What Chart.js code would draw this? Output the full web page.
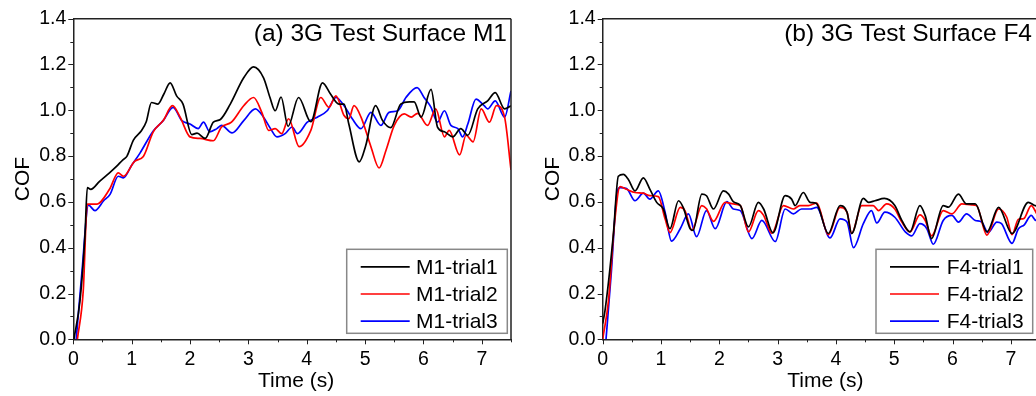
<!DOCTYPE html>
<html>
<head>
<meta charset="utf-8">
<script src="https://cdn.jsdelivr.net/npm/chart.js@4.4.1/dist/chart.umd.min.js"></script>
<style>
  html, body { margin: 0; padding: 0; background: #fff; }
  #wrap { position: relative; width: 1036px; height: 396px; overflow: hidden; }
  #panelA { position: absolute; left: 0; top: 0; }
  #boxB { position: absolute; left: 520px; top: 0; width: 516px; height: 396px; overflow: hidden; }
  #panelB { position: absolute; left: 0; top: 0; }
</style>
</head>
<body>
<div id="wrap">
  <canvas id="panelA" width="520" height="396"></canvas>
  <div id="boxB"><canvas id="panelB" width="530" height="396"></canvas></div>
</div>
<script>
// Axis ticks
const timeTicks = [0, 1, 2, 3, 4, 5, 6, 7];
const cofTicks = [0.0, 0.2, 0.4, 0.6, 0.8, 1.0, 1.2, 1.4];

// Surface M1 — time (s) and COF per trial
const m1Trial1T = [0.01, 0.115, 0.20, 0.24, 0.30, 0.45, 0.62, 0.74, 0.85, 0.92, 1.03, 1.17, 1.25, 1.34, 1.45, 1.55, 1.66, 1.77, 1.88, 2.03, 2.12, 2.26, 2.40, 2.52, 2.69, 2.92, 3.09, 3.26, 3.37, 3.46, 3.56, 3.68, 3.86, 4.07, 4.27, 4.41, 4.55, 4.64, 4.72, 4.90, 5.01, 5.18, 5.30, 5.44, 5.61, 5.76, 5.84, 5.96, 6.13, 6.24, 6.36, 6.50, 6.64, 6.76, 6.93, 7.10, 7.23, 7.39, 7.50];
const m1Trial1 = [0, 0.17, 0.455, 0.662, 0.655, 0.69, 0.727, 0.755, 0.784, 0.80, 0.87, 0.912, 0.95, 1.034, 1.027, 1.07, 1.12, 1.063, 1.027, 0.894, 0.90, 0.877, 0.948, 0.96, 1.027, 1.142, 1.19, 1.142, 1.056, 0.998, 1.058, 0.93, 1.056, 0.95, 1.12, 1.07, 1.027, 1.027, 0.941, 0.775, 0.845, 1.02, 0.955, 0.924, 1.027, 1.037, 1.037, 0.97, 1.091, 0.927, 0.906, 0.884, 0.92, 0.891, 1.006, 1.041, 1.077, 1.006, 1.02];

const m1Trial2T = [0.07, 0.17, 0.24, 0.40, 0.62, 0.77, 0.86, 1.05, 1.20, 1.37, 1.54, 1.70, 1.83, 2.00, 2.17, 2.40, 2.54, 2.71, 2.92, 3.09, 3.23, 3.35, 3.46, 3.57, 3.69, 3.87, 4.07, 4.24, 4.38, 4.50, 4.64, 4.72, 4.81, 4.93, 5.10, 5.24, 5.36, 5.50, 5.67, 5.79, 5.90, 6.07, 6.21, 6.36, 6.44, 6.62, 6.73, 6.85, 6.99, 7.13, 7.25, 7.39, 7.50];
const m1Trial2 = [0, 0.21, 0.59, 0.59, 0.655, 0.727, 0.712, 0.777, 0.798, 0.906, 0.955, 1.02, 0.97, 0.884, 0.877, 0.867, 0.927, 0.948, 1.02, 1.056, 0.991, 0.912, 0.92, 0.898, 0.963, 0.841, 0.912, 1.056, 1.013, 1.063, 0.977, 0.963, 1.02, 0.97, 0.841, 0.748, 0.827, 0.934, 0.984, 0.97, 0.987, 0.934, 1.006, 0.884, 0.912, 0.805, 0.891, 0.862, 1.006, 0.948, 1.02, 0.97, 0.74];

const m1Trial3T = [0.05, 0.15, 0.26, 0.37, 0.52, 0.63, 0.77, 0.86, 1.00, 1.14, 1.37, 1.54, 1.71, 1.86, 2.00, 2.14, 2.23, 2.34, 2.46, 2.54, 2.72, 2.92, 3.12, 3.26, 3.38, 3.49, 3.63, 3.75, 3.84, 4.01, 4.18, 4.35, 4.50, 4.64, 4.78, 4.93, 5.10, 5.27, 5.41, 5.56, 5.70, 5.89, 6.01, 6.13, 6.24, 6.36, 6.47, 6.59, 6.67, 6.76, 6.90, 7.04, 7.10, 7.23, 7.39, 7.50];
const m1Trial3 = [0, 0.3, 0.586, 0.562, 0.605, 0.633, 0.712, 0.705, 0.76, 0.812, 0.91, 0.955, 1.013, 0.955, 0.94, 0.92, 0.948, 0.906, 0.92, 0.934, 0.901, 0.955, 1.006, 0.97, 0.92, 0.884, 0.898, 0.927, 0.898, 0.948, 0.97, 0.998, 1.056, 1.02, 0.963, 0.92, 0.991, 0.934, 0.991, 0.998, 1.056, 1.099, 1.056, 1.013, 0.948, 0.998, 0.934, 0.92, 0.884, 0.94, 1.049, 1.02, 1.006, 1.041, 0.97, 1.084];

// Surface F4 — time (s) and COF per trial
const f4Trial1T = [0, 0.04, 0.18, 0.268, 0.354, 0.44, 0.554, 0.697, 0.81, 0.926, 1.04, 1.154, 1.30, 1.38, 1.50, 1.55, 1.70, 1.78, 1.90, 2.07, 2.16, 2.24, 2.36, 2.50, 2.67, 2.76, 2.92, 3.13, 3.24, 3.30, 3.44, 3.556, 3.66, 3.87, 4.07, 4.19, 4.27, 4.47, 4.56, 4.67, 4.83, 5.01, 5.13, 5.27, 5.44, 5.53, 5.64, 5.84, 5.93, 6.10, 6.24, 6.39, 6.59, 6.79, 7.02, 7.30, 7.41, 7.5];
const f4Trial1 = [0.069, 0.126, 0.45, 0.712, 0.72, 0.698, 0.648, 0.705, 0.655, 0.598, 0.569, 0.483, 0.605, 0.576, 0.483, 0.476, 0.634, 0.627, 0.569, 0.648, 0.634, 0.601, 0.584, 0.491, 0.598, 0.569, 0.465, 0.627, 0.612, 0.584, 0.641, 0.598, 0.594, 0.462, 0.584, 0.555, 0.462, 0.615, 0.598, 0.605, 0.615, 0.584, 0.519, 0.469, 0.584, 0.541, 0.44, 0.584, 0.577, 0.634, 0.591, 0.591, 0.469, 0.576, 0.462, 0.598, 0.584, 0.58];

const f4Trial2T = [0, 0.1, 0.2, 0.297, 0.41, 0.554, 0.697, 0.81, 0.954, 1.07, 1.154, 1.33, 1.41, 1.53, 1.70, 1.78, 1.90, 2.10, 2.24, 2.36, 2.50, 2.67, 2.76, 2.90, 3.10, 3.27, 3.38, 3.53, 3.67, 3.87, 4.07, 4.19, 4.27, 4.44, 4.64, 4.73, 4.87, 5.01, 5.13, 5.27, 5.44, 5.53, 5.64, 5.84, 5.99, 6.16, 6.33, 6.41, 6.59, 6.79, 6.93, 7.02, 7.13, 7.22, 7.35, 7.43, 7.5];
const f4Trial2 = [0, 0.17, 0.5, 0.667, 0.655, 0.641, 0.638, 0.627, 0.623, 0.526, 0.466, 0.576, 0.562, 0.476, 0.584, 0.57, 0.515, 0.598, 0.591, 0.584, 0.469, 0.562, 0.541, 0.462, 0.584, 0.569, 0.584, 0.584, 0.595, 0.457, 0.576, 0.555, 0.462, 0.584, 0.584, 0.562, 0.591, 0.569, 0.512, 0.469, 0.543, 0.52, 0.452, 0.562, 0.548, 0.591, 0.587, 0.584, 0.455, 0.569, 0.533, 0.457, 0.524, 0.527, 0.584, 0.555, 0.52];

const f4Trial3T = [0.057, 0.15, 0.24, 0.297, 0.41, 0.554, 0.697, 0.81, 0.954, 1.07, 1.18, 1.33, 1.47, 1.61, 1.78, 1.93, 2.13, 2.24, 2.36, 2.56, 2.73, 2.96, 3.13, 3.27, 3.41, 3.56, 3.67, 3.90, 4.07, 4.19, 4.30, 4.47, 4.61, 4.70, 4.84, 5.01, 5.19, 5.30, 5.44, 5.56, 5.67, 5.84, 5.99, 6.10, 6.24, 6.39, 6.50, 6.61, 6.76, 6.84, 7.02, 7.13, 7.23, 7.35, 7.43, 7.5];
const f4Trial3 = [0, 0.3, 0.627, 0.662, 0.658, 0.605, 0.638, 0.612, 0.648, 0.555, 0.429, 0.483, 0.548, 0.448, 0.562, 0.483, 0.601, 0.569, 0.562, 0.44, 0.519, 0.427, 0.569, 0.548, 0.569, 0.569, 0.576, 0.443, 0.526, 0.512, 0.40, 0.505, 0.562, 0.508, 0.555, 0.533, 0.469, 0.452, 0.505, 0.483, 0.415, 0.519, 0.541, 0.512, 0.548, 0.519, 0.512, 0.466, 0.512, 0.505, 0.419, 0.483, 0.50, 0.541, 0.519, 0.53];

const trialColors = ['#000000', '#ff0000', '#0000ff'];
const FONT = '"Liberation Sans", Arial, Helvetica, sans-serif';

function pairs(ts, vs) { return ts.map((t, i) => ({ x: t, y: vs[i] })); }

// Frame, minor/major tick marks, axis titles, panel title and boxed legend
const decorPlugin = {
  id: 'decor',
  afterDraw(chart, args, o) {
    const ctx = chart.ctx;
    const { left, right, top, bottom } = chart.chartArea;
    const xs = chart.scales.x, ys = chart.scales.y;
    ctx.save();
    // top and right frame lines
    ctx.strokeStyle = '#222';
    ctx.lineWidth = 1.5;
    ctx.beginPath();
    ctx.moveTo(left, top); ctx.lineTo(right, top);
    ctx.moveTo(right, top); ctx.lineTo(right, bottom);
    ctx.stroke();
    // tick marks (outward)
    ctx.lineWidth = 1;
    ctx.strokeStyle = '#222';
    ctx.beginPath();
    for (let v = 0; v <= 1.4001; v += 0.1) {
      const y = Math.round(ys.getPixelForValue(v)) + 0.5;
      const major = Math.abs(v / 0.2 - Math.round(v / 0.2)) < 1e-6;
      ctx.moveTo(left, y); ctx.lineTo(left - (major ? 5 : 3), y);
    }
    for (let v = 0; v <= 7.5001; v += 0.5) {
      const x = Math.round(xs.getPixelForValue(v)) + 0.5;
      const major = Math.abs(v - Math.round(v)) < 1e-6;
      ctx.moveTo(x, bottom); ctx.lineTo(x, bottom + (major ? 5 : 3));
    }
    ctx.stroke();
    // axis titles
    ctx.fillStyle = '#000';
    ctx.font = '21px ' + FONT;
    ctx.textAlign = 'center';
    ctx.textBaseline = 'alphabetic';
    ctx.fillText('Time (s)', (left + right) / 2 + 4, 386.5);
    ctx.save();
    ctx.translate(left - 44, (top + bottom) / 2);
    ctx.rotate(-Math.PI / 2);
    ctx.fillText('COF', 0, 0);
    ctx.restore();
    // panel title
    ctx.font = '24.5px ' + FONT;
    ctx.textAlign = 'right';
    ctx.fillText(o.title, o.titleX, 40.5);
    // legend box
    const lg = o.legend;
    ctx.strokeStyle = '#888';
    ctx.lineWidth = 1.5;
    ctx.fillStyle = '#fff';
    ctx.fillRect(lg.x, lg.y, lg.w, lg.h);
    ctx.strokeRect(lg.x, lg.y, lg.w, lg.h);
    ctx.font = '21px ' + FONT;
    ctx.textAlign = 'left';
    ctx.textBaseline = 'middle';
    chart.data.datasets.forEach((ds, i) => {
      const y = lg.y + 17.5 + i * 27.2;
      ctx.strokeStyle = ds.borderColor;
      ctx.lineWidth = 1.7;
      ctx.beginPath();
      ctx.moveTo(lg.x + lg.lineStart, y);
      ctx.lineTo(lg.x + lg.lineStart + 49, y);
      ctx.stroke();
      ctx.fillStyle = '#000';
      ctx.fillText(ds.label, lg.x + lg.textStart, y + 1);
    });
    ctx.restore();
  }
};

function makePanel(canvas, series, yAxisWidth, rightPad, decor) {
  return new Chart(canvas, {
    type: 'line',
    data: {
      datasets: series.map((s, i) => ({
        label: s.label,
        data: pairs(s.t, s.v),
        borderColor: trialColors[i],
        borderWidth: 1.7,
        pointRadius: 0,
        fill: false,
        cubicInterpolationMode: 'monotone'
      }))
    },
    options: {
      responsive: false,
      animation: false,
      devicePixelRatio: 1,
      layout: { padding: { left: 0, right: rightPad, top: 12.7, bottom: 0 } },
      plugins: { legend: { display: false }, tooltip: { enabled: false }, decor: decor },
      scales: {
        x: {
          type: 'linear',
          min: 0, max: 7.5,
          afterBuildTicks: s => { s.ticks = timeTicks.map(v => ({ value: v })); },
          afterFit: s => { s.height = 56.7; },
          grid: { display: false, drawTicks: false },
          border: { display: true, color: '#222', width: 1.5 },
          ticks: { color: '#000', font: { family: FONT, size: 19.5 }, padding: 9, maxRotation: 0,
                   callback: v => String(v) }
        },
        y: {
          type: 'linear',
          min: 0, max: 1.4,
          afterBuildTicks: s => { s.ticks = cofTicks.map(v => ({ value: v })); },
          afterFit: s => { s.width = yAxisWidth; },
          grid: { display: false, drawTicks: false },
          border: { display: true, color: '#222', width: 1.5 },
          ticks: { color: '#000', font: { family: FONT, size: 19.5 }, padding: 7,
                   callback: v => Number(v).toFixed(1) }
        }
      }
    },
    plugins: [decorPlugin]
  });
}

makePanel(document.getElementById('panelA'), [
  { label: 'M1-trial1', t: m1Trial1T, v: m1Trial1 },
  { label: 'M1-trial2', t: m1Trial2T, v: m1Trial2 },
  { label: 'M1-trial3', t: m1Trial3T, v: m1Trial3 }
], 73.3, 9, {
  title: '(a) 3G Test Surface M1', titleX: 507,
  legend: { x: 346.7, y: 249.3, w: 160.6, h: 84, lineStart: 14, textStart: 69.3 }
});

makePanel(document.getElementById('panelB'), [
  { label: 'F4-trial1', t: f4Trial1T, v: f4Trial1 },
  { label: 'F4-trial2', t: f4Trial2T, v: f4Trial2 },
  { label: 'F4-trial3', t: f4Trial3T, v: f4Trial3 }
], 82.7, 10, {
  title: '(b) 3G Test Surface F4', titleX: 512,
  legend: { x: 356, y: 249.3, w: 156.7, h: 84, lineStart: 14, textStart: 70.7 }
});
</script>
</body>
</html>
